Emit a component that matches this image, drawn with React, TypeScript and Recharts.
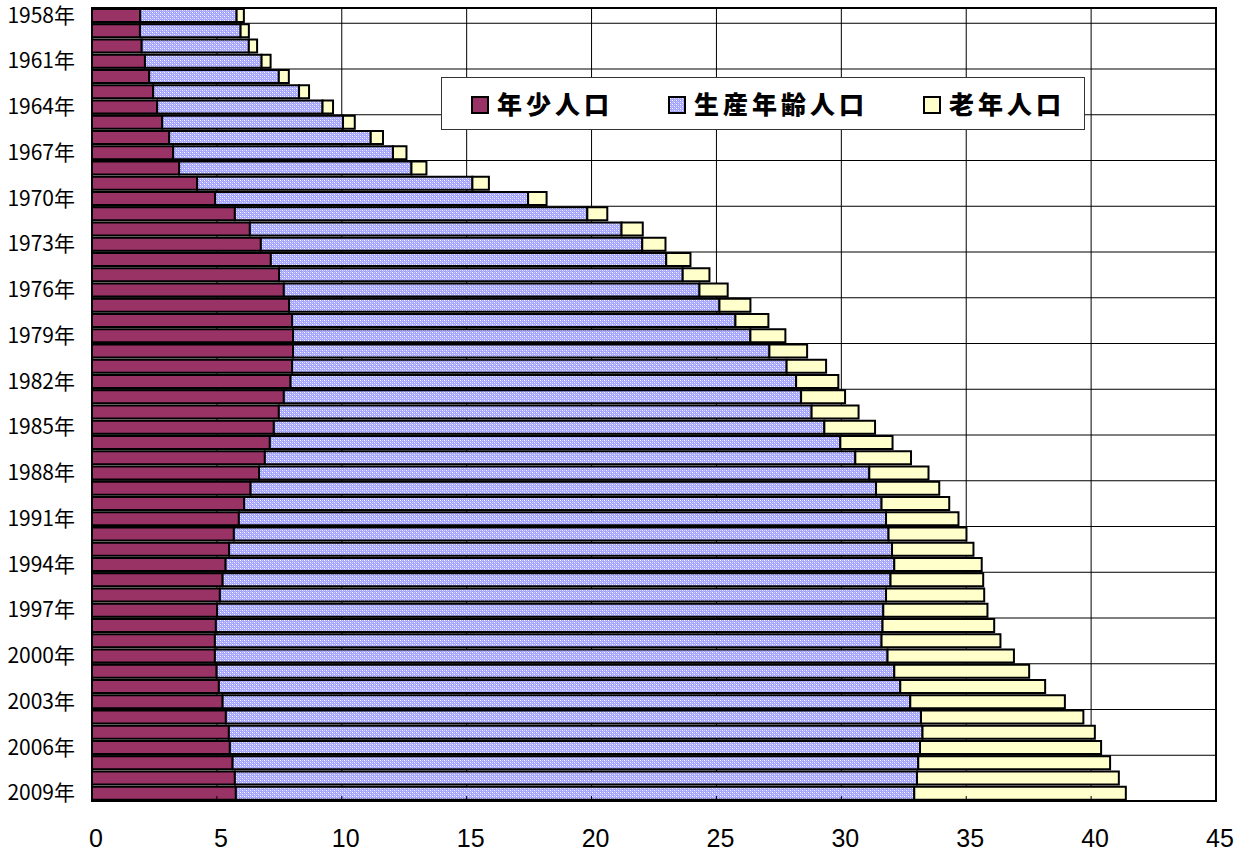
import React from "react";
import {
  BarChart,
  Bar,
  XAxis,
  YAxis,
  CartesianGrid,
  ReferenceArea,
} from "recharts";

// 年次（カテゴリ）
const YEARS = [
  "1958年", "1959年", "1960年", "1961年", "1962年", "1963年", "1964年",
  "1965年", "1966年", "1967年", "1968年", "1969年", "1970年", "1971年",
  "1972年", "1973年", "1974年", "1975年", "1976年", "1977年", "1978年",
  "1979年", "1980年", "1981年", "1982年", "1983年", "1984年", "1985年",
  "1986年", "1987年", "1988年", "1989年", "1990年", "1991年", "1992年",
  "1993年", "1994年", "1995年", "1996年", "1997年", "1998年", "1999年",
  "2000年", "2001年", "2002年", "2003年", "2004年", "2005年", "2006年",
  "2007年", "2008年", "2009年",
];

const YOUNG = [
  1.93, 1.92, 1.99, 2.12, 2.29, 2.45, 2.61, 2.81, 3.09, 3.25, 3.49, 4.21,
  4.93, 5.72, 6.32, 6.76, 7.16, 7.49, 7.68, 7.89, 8.01, 8.05, 8.05, 8.01,
  7.95, 7.68, 7.48, 7.28, 7.12, 6.92, 6.69, 6.35, 6.09, 5.88, 5.68, 5.49,
  5.35, 5.23, 5.12, 5.01, 4.96, 4.92, 4.92, 4.99, 5.08, 5.23, 5.36, 5.48,
  5.52, 5.63, 5.72, 5.76,
];

const WORKING = [
  3.86, 4.03, 4.29, 4.67, 5.19, 5.84, 6.62, 7.24, 8.07, 8.8, 9.3, 11.02,
  12.53, 14.11, 14.88, 15.27, 15.83, 16.16, 16.64, 17.23, 17.75, 18.31,
  19.07, 19.8, 20.24, 20.71, 21.33, 22.04, 22.84, 23.64, 24.43, 25.04,
  25.52, 25.91, 26.21, 26.54, 26.77, 26.74, 26.67, 26.67, 26.69, 26.69,
  26.93, 27.13, 27.28, 27.53, 27.83, 27.77, 27.63, 27.45, 27.31, 27.16,
];

const ELDERLY = [
  0.29, 0.33, 0.33, 0.36, 0.4, 0.4, 0.42, 0.47, 0.49, 0.54, 0.6, 0.66,
  0.74, 0.8, 0.85, 0.93, 0.97, 1.07, 1.13, 1.24, 1.32, 1.4, 1.51, 1.58,
  1.69, 1.76, 1.88, 2.03, 2.09, 2.23, 2.37, 2.53, 2.71, 2.9, 3.12, 3.26,
  3.5, 3.71, 3.93, 4.17, 4.47, 4.76, 5.06, 5.4, 5.8, 6.19, 6.5, 6.9, 7.25,
  7.68, 8.08, 8.47,
];

const X_TICKS = [0, 5, 10, 15, 20, 25, 30, 35, 40, 45];

const SERIES = [
  { key: "young", name: "年少人口", fill: "#993366" },
  { key: "working", name: "生産年齢人口", fill: "url(#workPattern)" },
  { key: "elderly", name: "老年人口", fill: "#FFFFCC" },
];

const data = YEARS.map((year, i) => ({
  year,
  young: YOUNG[i],
  working: WORKING[i],
  elderly: ELDERLY[i],
}));

const FONT = '"Noto Sans CJK JP", "Noto Sans", sans-serif';

function XTick(props: any) {
  const { x, y, payload } = props;
  return (
    <g>
      <line x1={x} x2={x} y1={y - 5} y2={y} stroke="#000" strokeWidth={1} />
      <text
        x={x + 4}
        y={y + 46}
        textAnchor="middle"
        fontSize={25}
        fontFamily='"Liberation Sans", Arial, sans-serif'
        fill="#000"
      >
        {payload.value}
      </text>
    </g>
  );
}

function YTick(props: any) {
  const { x, y, payload } = props;
  return (
    <text
      x={x}
      y={y}
      dy={7}
      textAnchor="end"
      fontSize={21}
      fontFamily={FONT}
      fill="#000"
    >
      {payload.value}
    </text>
  );
}

function LegendBox() {
  return (
    <div
      style={{
        position: "absolute",
        left: 441,
        top: 77,
        width: 644,
        height: 53,
        boxSizing: "border-box",
        border: "1px solid #333",
        background: "#fff",
        display: "flex",
        alignItems: "center",
        paddingLeft: 29,
        fontFamily: FONT,
        whiteSpace: "nowrap",
      }}
    >
      {SERIES.map((s) => (
        <div
          key={s.key}
          style={{
            display: "flex",
            alignItems: "center",
            marginRight: 55,
            flexShrink: 0,
          }}
        >
          <svg width={18} height={18} style={{ marginRight: 8, marginTop: 3 }}>
            <rect
              x={1}
              y={1}
              width={16}
              height={16}
              fill={s.fill}
              stroke="#000"
              strokeWidth={2}
            />
          </svg>
          <span
            style={{
              fontSize: 25,
              fontWeight: 900,
              letterSpacing: 4,
              color: "#000",
              lineHeight: "25px",
            }}
          >
            {s.name}
          </span>
        </div>
      ))}
    </div>
  );
}

export default function App() {
  const n = YEARS.length;
  return (
    <div
      style={{
        position: "absolute",
        left: 0,
        top: 0,
        width: 1244,
        height: 854,
        background: "#fff",
      }}
    >
      <BarChart
        width={1244}
        height={854}
        data={data}
        layout="vertical"
        margin={{ top: 8, right: 28, bottom: 0, left: 0 }}
        barCategoryGap={1}
      >
        <defs>
          <pattern
            id="workPattern"
            width={4}
            height={4}
            patternUnits="userSpaceOnUse"
          >
            <rect width={4} height={4} fill="#A4A4FF" />
            <rect x={0} y={0} width={1} height={1} fill="#FFFFFF" />
            <rect x={2} y={2} width={1} height={1} fill="#F0F0FF" />
            <rect x={2} y={0} width={1} height={1} fill="#CCCCFF" />
            <rect x={0} y={2} width={1} height={1} fill="#CCCCFF" />
            <rect x={1} y={1} width={1} height={1} fill="#B8B8FF" />
            <rect x={3} y={3} width={1} height={1} fill="#B8B8FF" />
          </pattern>
        </defs>
        <CartesianGrid
          stroke="#000"
          strokeWidth={1}
          horizontalCoordinatesGenerator={({ offset }: any) => {
            const out: number[] = [];
            for (let k = 1; k < n; k += 3) {
              out.push(offset.top + (offset.height * k) / n);
            }
            return out;
          }}
        />
        <XAxis
          type="number"
          domain={[0, 45]}
          ticks={X_TICKS}
          height={53}
          tickLine={false}
          tickSize={0}
          tickMargin={0}
          axisLine={{ stroke: "#000", strokeWidth: 2 }}
          tick={<XTick />}
          interval={0}
        />
        <YAxis
          type="category"
          dataKey="year"
          width={92}
          interval={2}
          tickLine={false}
          tickSize={0}
          tickMargin={17}
          axisLine={{ stroke: "#000", strokeWidth: 2 }}
          tick={<YTick />}
        />
        {SERIES.map((s) => (
          <Bar
            key={s.key}
            dataKey={s.key}
            name={s.name}
            stackId="pop"
            fill={s.fill}
            stroke="#000"
            strokeWidth={2}
            isAnimationActive={false}
          />
        ))}
        <ReferenceArea
          x1={0}
          x2={45}
          y1={YEARS[0]}
          y2={YEARS[n - 1]}
          fill="none"
          fillOpacity={0}
          stroke="#000"
          strokeWidth={2}
          ifOverflow="visible"
        />
      </BarChart>
      <LegendBox />
    </div>
  );
}
